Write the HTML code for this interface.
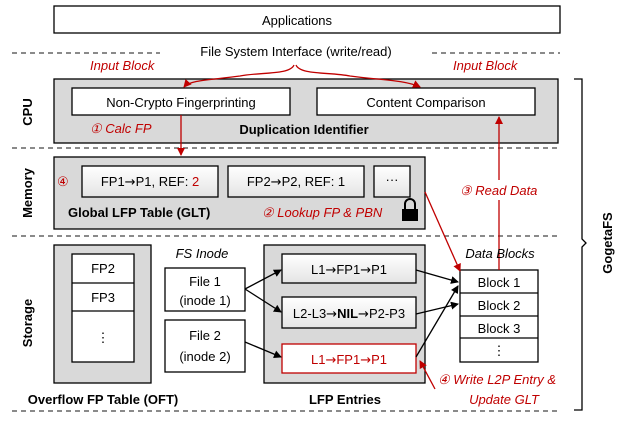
<!DOCTYPE html>
<html><head><meta charset="utf-8"><style>
body{margin:0;background:#fff}
text{font-family:"Liberation Sans",sans-serif;font-size:13px}
.r{fill:#c00000}.i{font-style:italic}.b{font-weight:bold}
.ar{font-family:"DejaVu Sans",sans-serif}
</style></head><body>
<svg width="638" height="422" viewBox="0 0 638 422" xmlns="http://www.w3.org/2000/svg">
<defs>
<marker id="ak" markerWidth="8" markerHeight="8" refX="7" refY="4" orient="auto" markerUnits="userSpaceOnUse"><path d="M0,0L8,4L0,8z" fill="#000"/></marker>
<marker id="ar" markerWidth="8" markerHeight="8" refX="7" refY="4" orient="auto" markerUnits="userSpaceOnUse"><path d="M0,0L8,4L0,8z" fill="#c00000"/></marker>
<linearGradient id="g" x1="0" y1="0" x2="0" y2="1"><stop offset="0" stop-color="#fff"/><stop offset="1" stop-color="#e4e4e4"/></linearGradient>
</defs>
<g stroke="#000" stroke-width="1.3">
<rect x="54" y="6" width="506" height="27" fill="#fff"/>
</g>
<text x="297" y="25" text-anchor="middle" font-size="14">Applications</text>
<g stroke="#444" stroke-width="1.3" stroke-dasharray="5,4">
<line x1="12" y1="53" x2="160" y2="53"/><line x1="432" y1="53" x2="560" y2="53"/>
<line x1="12" y1="148" x2="560" y2="148"/>
<line x1="12" y1="236" x2="560" y2="236"/>
<line x1="12" y1="411" x2="560" y2="411"/>
</g>
<text x="296" y="56" text-anchor="middle" font-size="14">File System Interface (write/read)</text>
<text x="90" y="70" class="r i">Input Block</text>
<text x="453" y="70" class="r i">Input Block</text>
<g stroke="#000" stroke-width="1.3">
<rect x="54" y="79" width="504" height="64" fill="#d9d9d9"/>
<rect x="72" y="88" width="218" height="27" fill="#fff"/>
<rect x="317" y="88" width="218" height="27" fill="#fff"/>
<rect x="54" y="157" width="371" height="72" fill="#d9d9d9"/>
<rect x="82" y="166" width="136" height="31" fill="url(#g)"/>
<rect x="228" y="166" width="136" height="31" fill="url(#g)"/>
<rect x="374" y="166" width="36" height="31" fill="url(#g)"/>
<rect x="54" y="245" width="97" height="138" fill="#d9d9d9"/>
<rect x="72" y="254" width="62" height="108" fill="#fff"/>
<line x1="72" y1="283" x2="134" y2="283"/><line x1="72" y1="311" x2="134" y2="311"/>
<rect x="165" y="268" width="80" height="43" fill="#fff"/>
<rect x="165" y="320" width="80" height="52" fill="#fff"/>
<rect x="264" y="245" width="161" height="138" fill="#d9d9d9"/>
<rect x="282" y="254" width="134" height="29" fill="url(#g)"/>
<rect x="282" y="297" width="134" height="31" fill="url(#g)"/>
<rect x="460" y="270" width="78" height="92" fill="#fff"/>
<line x1="460" y1="293" x2="538" y2="293"/><line x1="460" y1="316" x2="538" y2="316"/><line x1="460" y1="338" x2="538" y2="338"/>
</g>
<path d="M294,65 C290,75 260,72 240,76 C210,80 190,80 184,87" fill="none" stroke="#c00000" stroke-width="1.3" marker-end="url(#ar)"/>
<path d="M296,65 C300,75 330,72 350,76 C380,80 405,80 420,87" fill="none" stroke="#c00000" stroke-width="1.3" marker-end="url(#ar)"/>
<rect x="282" y="344" width="134" height="29" fill="#fff" stroke="#c00000" stroke-width="1.3"/>
<text x="181" y="107" text-anchor="middle" font-size="14">Non-Crypto Fingerprinting</text>
<text x="426" y="107" text-anchor="middle" font-size="14">Content Comparison</text>
<text x="90" y="133" class="r i">① Calc FP</text>
<text x="304" y="134" text-anchor="middle" class="b" font-size="14">Duplication Identifier</text>
<line x1="181" y1="115" x2="181" y2="155" stroke="#c00000" stroke-width="1.3" marker-end="url(#ar)"/>
<text x="150" y="186" text-anchor="middle" font-size="14">FP1<tspan class="ar">→</tspan>P1, REF: <tspan class="r">2</tspan></text>
<text x="296" y="186" text-anchor="middle" font-size="14">FP2<tspan class="ar">→</tspan>P2, REF: 1</text>
<text x="392" y="184" text-anchor="middle">···</text>
<text x="57" y="186" class="r" font-size="15">④</text>
<text x="68" y="217" class="b" font-size="14">Global LFP Table (GLT)</text>
<text x="262" y="217" class="r i">② Lookup FP &amp; PBN</text>
<path d="M405,209 v-5 a5,5 0 0 1 10,0 v5" fill="none" stroke="#000" stroke-width="2"/>
<rect x="402" y="209" width="16" height="12" fill="#000"/>
<text x="460" y="195" class="r i">③ Read Data</text>
<line x1="499" y1="270" x2="499" y2="200" stroke="#c00000" stroke-width="1.3"/>
<line x1="499" y1="180" x2="499" y2="117" stroke="#c00000" stroke-width="1.3" marker-end="url(#ar)"/>
<line x1="425" y1="192" x2="460" y2="271" stroke="#c00000" stroke-width="1.3" marker-end="url(#ar)"/>
<text x="103" y="273" text-anchor="middle" font-size="14">FP2</text>
<text x="103" y="302" text-anchor="middle" font-size="14">FP3</text>
<text x="103" y="342" text-anchor="middle" font-size="14">⋮</text>
<text x="103" y="404" text-anchor="middle" class="b" font-size="14">Overflow FP Table (OFT)</text>
<text x="202" y="258" text-anchor="middle" class="i" font-size="14">FS Inode</text>
<text x="205" y="286" text-anchor="middle" font-size="14">File 1</text>
<text x="205" y="305" text-anchor="middle" font-size="14">(inode 1)</text>
<text x="205" y="340" text-anchor="middle" font-size="14">File 2</text>
<text x="205" y="361" text-anchor="middle" font-size="14">(inode 2)</text>
<text x="349" y="274" text-anchor="middle" font-size="14">L1<tspan class="ar">→</tspan>FP1<tspan class="ar">→</tspan>P1</text>
<text x="349" y="318" text-anchor="middle" font-size="12">L2-L3<tspan class="ar">→</tspan><tspan class="b">NIL</tspan><tspan class="ar">→</tspan>P2-P3</text>
<text x="349" y="364" text-anchor="middle" font-size="14" class="r">L1<tspan class="ar">→</tspan>FP1<tspan class="ar">→</tspan>P1</text>
<text x="345" y="404" text-anchor="middle" class="b" font-size="14">LFP Entries</text>
<text x="500" y="258" text-anchor="middle" class="i" font-size="14">Data Blocks</text>
<text x="499" y="287" text-anchor="middle" font-size="14">Block 1</text>
<text x="499" y="310" text-anchor="middle" font-size="14">Block 2</text>
<text x="499" y="333" text-anchor="middle" font-size="14">Block 3</text>
<text x="499" y="355" text-anchor="middle" font-size="14">⋮</text>
<g stroke="#000" stroke-width="1.3" marker-end="url(#ak)">
<line x1="245" y1="289" x2="281" y2="270"/>
<line x1="245" y1="289" x2="281" y2="312"/>
<line x1="245" y1="342" x2="281" y2="357"/>
<line x1="416" y1="270" x2="458" y2="282"/>
<line x1="416" y1="314" x2="458" y2="304"/>
<line x1="416" y1="357" x2="458" y2="286"/>
</g>
<line x1="435" y1="389" x2="420" y2="361" stroke="#c00000" stroke-width="1.3" marker-end="url(#ar)"/>
<text x="438" y="384" class="r i">④ Write L2P Entry &amp;</text>
<text x="504" y="404" text-anchor="middle" class="r i">Update GLT</text>
<path d="M574,79 h8 v160 l4,4 l-4,4 v163 h-8" fill="none" stroke="#000" stroke-width="1.3"/>
<text transform="translate(612,243) rotate(-90)" text-anchor="middle" class="b" font-size="14">GogetaFS</text>
<text transform="translate(32,112) rotate(-90)" text-anchor="middle" class="b" font-size="14">CPU</text>
<text transform="translate(32,193) rotate(-90)" text-anchor="middle" class="b" font-size="14">Memory</text>
<text transform="translate(32,323) rotate(-90)" text-anchor="middle" class="b" font-size="14">Storage</text>
</svg>
</body></html>
